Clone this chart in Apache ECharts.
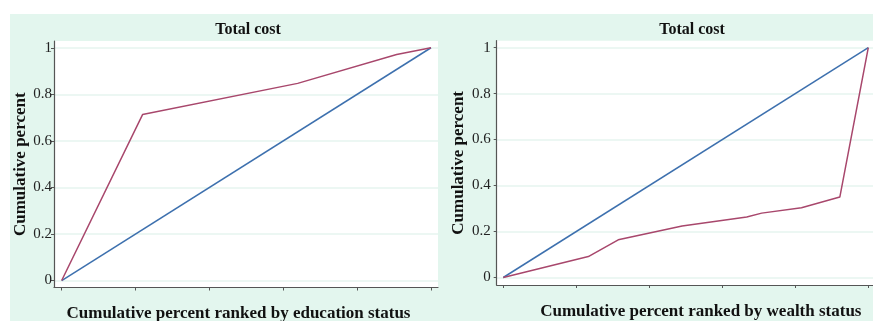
<!DOCTYPE html>
<html>
<head>
<meta charset="utf-8">
<script src="https://cdn.jsdelivr.net/npm/echarts@6/dist/echarts.min.js"></script>
<style>
html,body{margin:0;padding:0;background:#fff;}
#c{width:873px;height:321px;}
</style>
</head>
<body>
<div id="c"></div>
<script>
// ---- data ----
var panelTitles = ['Total cost', 'Total cost'];
var xAxisNames = ['Cumulative percent ranked by education status', 'Cumulative percent ranked by wealth status'];
var yAxisName = 'Cumulative percent';
var tickValues = [0, 0.2, 0.4, 0.6, 0.8, 1];

// Left panel: concentration curve by education status
var eduX = [0, 0.219, 0.639, 0.907, 1];
var eduCost = [0, 0.713, 0.847, 0.971, 1];

// Right panel: concentration curve by wealth status
var wealthX = [0, 0.233, 0.315, 0.49, 0.667, 0.708, 0.817, 0.922, 1];
var wealthCost = [0, 0.091, 0.164, 0.224, 0.263, 0.28, 0.303, 0.35, 1];

// Line of equality
var equalX = [0, 1];
var equalY = [0, 1];

function pairs(xs, ys) { return xs.map(function (x, i) { return [x, ys[i]]; }); }

var FONT = 'Liberation Serif';
var RED = '#a8476c';
var BLUE = '#3d70ae';
var GRIDC = '#e6f5ef';
var AXC = '#555';

function xAxisCfg(idx, min, max, name, pad) {
  return {
    type: 'value', gridIndex: idx, min: min, max: max,
    name: name, nameLocation: 'middle', nameGap: 18,
    nameTextStyle: { fontFamily: FONT, fontWeight: 'bold', fontSize: 17, color: '#111', padding: pad },
    axisLine: { show: true, onZero: false, lineStyle: { color: AXC, width: 1.2 } },
    axisTick: { show: true, length: 3, customValues: tickValues, lineStyle: { color: AXC } },
    axisLabel: { show: false },
    splitLine: { show: false }
  };
}
function yAxisCfg(idx, min, max, gap, margin) {
  return {
    type: 'value', gridIndex: idx, min: min, max: max,
    name: yAxisName, nameLocation: 'middle', nameGap: gap, nameRotate: 90,
    nameTextStyle: { fontFamily: FONT, fontWeight: 'bold', fontSize: 17, color: '#111' },
    axisLine: { show: true, onZero: false, lineStyle: { color: AXC, width: 1.2 } },
    axisTick: { show: true, length: 3, customValues: tickValues, lineStyle: { color: AXC } },
    axisLabel: { customValues: tickValues, fontFamily: FONT, fontSize: 15, color: '#222', margin: margin },
    splitLine: { show: true, lineStyle: { color: GRIDC, width: 1.5 } }
  };
}

var chart = echarts.init(document.getElementById('c'), null, { renderer: 'canvas' });
chart.setOption({
  animation: false,
  backgroundColor: '#fff',
  graphic: [{
    type: 'rect', z: -10, silent: true,
    shape: { x: 10, y: 14, width: 863, height: 307 },
    style: { fill: '#e3f6ee' }
  }],
  title: [
    { text: panelTitles[0], left: 243, top: 17, textAlign: 'center',
      textStyle: { fontFamily: FONT, fontWeight: 'bold', fontSize: 16, color: '#111' } },
    { text: panelTitles[1], left: 687, top: 17, textAlign: 'center',
      textStyle: { fontFamily: FONT, fontWeight: 'bold', fontSize: 16, color: '#111' } }
  ],
  grid: [
    { left: 54, right: 435, top: 41, bottom: 33.5, show: true, backgroundColor: '#fff', borderWidth: 0,
      containLabel: false, outerBoundsMode: 'none' },
    { left: 496.7, right: 0, top: 40.7, bottom: 36, show: true, backgroundColor: '#fff', borderWidth: 0,
      containLabel: false, outerBoundsMode: 'none' }
  ],
  xAxis: [
    xAxisCfg(0, -0.0208, 1.019, xAxisNames[0], [0, 15, 0, 0]),
    xAxisCfg(1, -0.018, 1.0129, xAxisNames[1], [0, 0, 0, 32])
  ],
  yAxis: [
    yAxisCfg(0, -0.030, 1.029, 17, 2),
    yAxisCfg(1, -0.0326, 1.030, 30, 6)
  ],
  series: [
    { type: 'line', xAxisIndex: 0, yAxisIndex: 0, data: pairs(equalX, equalY), showSymbol: false,
      lineStyle: { color: BLUE, width: 1.5 }, z: 3 },
    { type: 'line', xAxisIndex: 0, yAxisIndex: 0, data: pairs(eduX, eduCost), showSymbol: false,
      lineStyle: { color: RED, width: 1.5 }, z: 4 },
    { type: 'line', xAxisIndex: 1, yAxisIndex: 1, data: pairs(equalX, equalY), showSymbol: false,
      lineStyle: { color: BLUE, width: 1.5 }, z: 3 },
    { type: 'line', xAxisIndex: 1, yAxisIndex: 1, data: pairs(wealthX, wealthCost), showSymbol: false,
      lineStyle: { color: RED, width: 1.5 }, z: 4 }
  ]
});
</script>
</body>
</html>
